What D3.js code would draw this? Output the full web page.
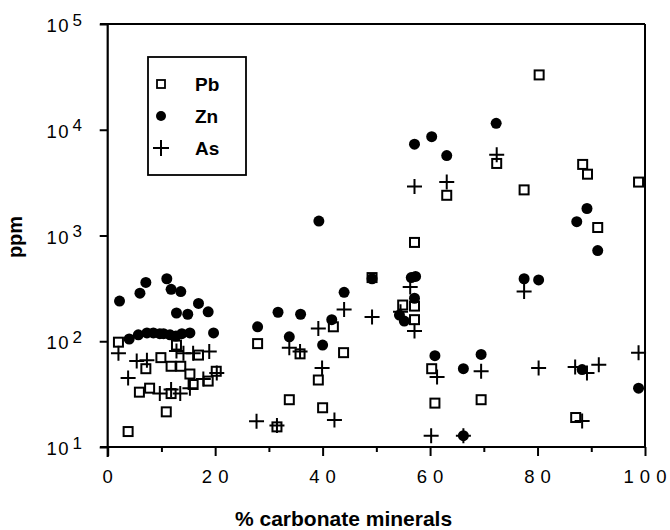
<!DOCTYPE html>
<html>
<head>
<meta charset="utf-8">
<script src="https://cdn.jsdelivr.net/npm/d3@7"></script>
<style>
  html, body { margin: 0; padding: 0; background: #fff; }
  svg { display: block; }
  text { font-family: "Liberation Sans", Arial, Helvetica, sans-serif; fill: #000; }
</style>
</head>
<body>
<svg id="chart" width="670" height="530"></svg>
<script>
// ---- data (x = % carbonate minerals, y = ppm) ----
const pbData = [
  [2.0,98],[3.8,14],[5.9,33],[7.1,55],[7.8,36],[9.9,70],[10.9,21.5],[11.8,58],[11.8,32],
  [12.8,92],[13.6,58],[15.3,49],[15.9,39],[16.9,74],[18.7,42],[20.2,52],
  [27.9,95],[31.5,15.5],[33.8,28],[35.8,76],[39.2,43],[40,23.5],[42,137],[43.9,78],[49.2,400],
  [54.9,220],[57.1,215],[57.1,160],[57.1,860],
  [60.3,55],[60.9,26],[63.1,2400],[69.5,28],[72.4,4800],[77.5,2700],[80.3,33000],
  [87.1,19],[88.4,4700],[89.3,3800],[91.2,1190],[98.8,3200]
];
const znData = [
  [2.2,240],[6.0,285],[7.1,360],[11.0,390],[11.8,310],[12.8,185],[13.6,295],[14.9,180],[16.9,228],[18.7,190],
  [4.0,105],[5.7,115],[7.3,120],[8.5,120],[9.7,118],[10.4,118],[11.6,115],[12.7,112],[13.8,118],[15.3,120],[19.7,120],
  [27.9,137],[31.7,188],[33.8,110],[35.9,180],[39.3,1370],[40,92],[41.7,160],[44,290],[49.2,390],
  [54.3,177],[55.2,155],[56.5,400],[57.3,410],[57.1,255],[57.1,7300],
  [60.3,8600],[60.9,73],[63.1,5700],[66.2,55],[66.2,12.8],[69.5,75],[72.3,11500],[77.5,390],[80.2,380],
  [87.3,1350],[88.3,54],[89.2,1800],[91.2,720],[98.8,36]
];
const asData = [
  [2.0,77],[3.8,45],[5.4,65],[7.3,66],[9.7,32],[11.8,35],[12.8,81],[13.5,32],[14.1,77],[15.3,36],
  [15.9,77],[17.8,44],[18.9,80],[20.3,50],
  [27.7,17.5],[31.5,16],[33.8,87],[35.8,80],[39.2,132],[39.9,56],[42.2,18],[44,200],[49.2,170],
  [54.5,190],[56.3,325],[57.1,125],[57.1,2900],
  [60.2,12.8],[61.3,46],[63.1,3200],[66.2,12.8],[69.5,52],[72.4,5800],[77.5,295],[80.2,56],
  [87.0,57],[88.3,17.6],[89.2,50],[91.4,60],[98.8,78]
];
const xTicksMajor = [0, 20, 40, 60, 80, 100];
const xTicksMinor = [10, 30, 50, 70, 90];
const yTicks = [10, 100, 1000, 10000, 100000];
const yTickExp = ["1", "2", "3", "4", "5"];
const legendLabels = ["Pb", "Zn", "As"];
const xTitle = "% carbonate minerals";
const yTitle = "ppm";

// ---- drawing ----
const svg = d3.select("#chart");
const x = d3.scaleLinear().domain([0, 100]).range([107.7, 645]);
const y = d3.scaleLog().domain([10, 100000]).range([447, 24]);

// frame: top and right lines
svg.append("line").attr("x1", 100).attr("x2", x(100)).attr("y1", y(1e5)).attr("y2", y(1e5))
  .attr("stroke", "#000").attr("stroke-width", 2);
svg.append("line").attr("x1", x(100)).attr("x2", x(100)).attr("y1", y(1e5)).attr("y2", y(10))
  .attr("stroke", "#000").attr("stroke-width", 2);

// bottom axis
const gx = svg.append("g").attr("transform", `translate(0,${y(10)})`)
  .call(d3.axisBottom(x).tickValues(xTicksMajor).tickSize(9).tickSizeOuter(0).tickFormat(() => ""));
const gxm = svg.append("g").attr("transform", `translate(0,${y(10)})`)
  .call(d3.axisBottom(x).tickValues(xTicksMinor).tickSize(5).tickSizeOuter(0).tickFormat(() => ""));
gxm.select(".domain").remove();
[gx, gxm].forEach(g => {
  g.selectAll("line").attr("stroke", "#000").attr("stroke-width", 2);
  g.select(".domain").attr("stroke", "#000").attr("stroke-width", 2.2);
});
gx.select(".domain").attr("d", `M100,0H${x(100)}`);

// left axis
const gy = svg.append("g").attr("transform", `translate(${x(0)},0)`)
  .call(d3.axisLeft(y).tickValues(yTicks).tickSize(8).tickSizeOuter(0).tickFormat(() => ""));
gy.selectAll("line").attr("stroke", "#000").attr("stroke-width", 2);
gy.select(".domain").attr("stroke", "#000").attr("stroke-width", 2.2)
  .attr("d", `M0,${y(1e5)}V${y(10) + 10}`);

// x tick labels (spaced digits)
const xl = svg.append("g").selectAll("text").data(xTicksMajor).join("text")
  .attr("x", d => x(d)).attr("y", 483)
  .attr("text-anchor", "middle")
  .attr("font-size", 18.5);
xl.selectAll("tspan").data(d => String(d).split("")).join("tspan")
  .attr("dx", (c, i) => i === 0 ? 0 : 6)
  .text(c => c);

// y tick labels with superscript
const yl = svg.append("g").selectAll("g").data(yTicks).join("g");
yl.append("text").attr("x", 70).attr("y", d => y(d) + 8)
  .attr("text-anchor", "end").attr("font-size", 18.5).attr("letter-spacing", 1.5)
  .text("10");
yl.append("text").attr("x", 72.5).attr("y", (d) => y(d) + 1.5)
  .attr("font-size", 17)
  .text((d, i) => yTickExp[i]);

// axis titles
svg.append("text").attr("x", 235).attr("y", 526)
  .attr("font-size", 21).attr("font-weight", "bold").text(xTitle);
svg.append("text").attr("transform", `translate(22,237) rotate(-90)`)
  .attr("text-anchor", "middle").attr("font-size", 20).attr("font-weight", "bold").text(yTitle);

// markers
const sq = 9;
function drawSquares(g, data) {
  g.selectAll("rect").data(data).join("rect")
    .attr("x", d => x(d[0]) - sq / 2)
    .attr("y", d => y(d[1]) - sq / 2)
    .attr("width", sq).attr("height", sq)
    .attr("fill", "#fff").attr("stroke", "#000").attr("stroke-width", 2);
}
function drawDots(g, data) {
  g.selectAll("circle").data(data).join("circle")
    .attr("cx", d => x(d[0])).attr("cy", d => y(d[1])).attr("r", 5.5).attr("fill", "#000");
}
function drawPlus(g, data) {
  g.selectAll("path").data(data).join("path")
    .attr("d", d => {
      const cx = x(d[0]), cy = y(d[1]), a = 7.5;
      return `M${cx - a},${cy}H${cx + a}M${cx},${cy - a}V${cy + a}`;
    })
    .attr("stroke", "#000").attr("stroke-width", 2).attr("fill", "none");
}
const plot = svg.append("g");
drawSquares(plot.append("g"), pbData);
drawDots(plot.append("g"), znData);
drawPlus(plot.append("g"), asData);

// legend
const lg = svg.append("g");
lg.append("rect").attr("x", 148).attr("y", 57).attr("width", 98).attr("height", 118)
  .attr("fill", "#fff").attr("stroke", "#000").attr("stroke-width", 1.8);
const rowsY = [84, 116, 148];
lg.append("rect").attr("x", 161 - 4).attr("y", rowsY[0] - 4).attr("width", 8).attr("height", 8)
  .attr("fill", "#fff").attr("stroke", "#000").attr("stroke-width", 1.8);
lg.append("circle").attr("cx", 161).attr("cy", rowsY[1]).attr("r", 5).attr("fill", "#000");
lg.append("path").attr("d", `M153,${rowsY[2]}H169M161,${rowsY[2] - 8}V${rowsY[2] + 8}`)
  .attr("stroke", "#000").attr("stroke-width", 2);
lg.selectAll("text").data(legendLabels).join("text")
  .attr("x", 195).attr("y", (d, i) => rowsY[i] + 7)
  .attr("font-size", 19).attr("font-weight", "bold").text(d => d);
</script>
</body>
</html>
